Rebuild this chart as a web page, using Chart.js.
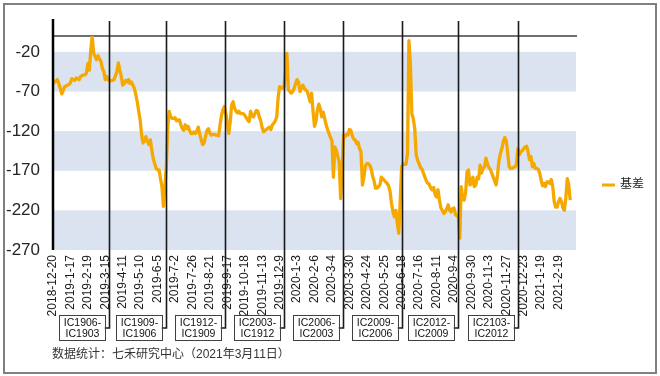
<!DOCTYPE html>
<html>
<head>
<meta charset="utf-8">
<script src="https://cdn.jsdelivr.net/npm/chart.js@4.4.1/dist/chart.umd.min.js"></script>
<style>
  html, body { margin: 0; padding: 0; background: #fff; }
  #wrap { width: 660px; height: 376px; }
</style>
</head>
<body>
<div id="wrap"><canvas id="chart" width="660" height="376"></canvas></div>
<script>
// tick labels along the x axis, one every LABEL_STEP points
const dateLabels = [
  '2018-12-20', '2019-1-17', '2019-2-19', '2019-3-15', '2019-4-11', '2019-5-10',
  '2019-6-5', '2019-7-2', '2019-7-26', '2019-8-21', '2019-9-17', '2019-10-18',
  '2019-11-13', '2019-12-9', '2020-1-3', '2020-2-6', '2020-3-4', '2020-3-30',
  '2020-4-24', '2020-5-25', '2020-6-18', '2020-7-16', '2020-8-11', '2020-9-4',
  '2020-9-30', '2020-11-3', '2020-11-27', '2020-12-23', '2021-1-19', '2021-2-19'
];
const LABEL_STEP = 12;

// 基差 series
const basis = [
  -60, -58, -57, -55, -60, -66, -73, -69, -64, -63,
  -62, -61, -59, -54, -55, -56, -53, -54, -55, -51,
  -50, -49, -49, -47, -35, -43, -18, -1, -22, -26,
  -30, -25, -29, -32, -41, -45, -55, -51, -55, -57,
  -56, -56, -55, -50, -45, -34, -43, -51, -62, -60,
  -56, -58, -55, -60, -58, -62, -66, -74, -83, -95,
  -106, -125, -135, -132, -127, -133, -137, -131, -144, -155,
  -161, -167, -169, -169, -180, -190, -215, -190, -165, -114,
  -95, -102, -104, -104, -103, -107, -106, -106, -112, -117,
  -119, -112, -117, -114, -119, -123, -123, -121, -123, -120,
  -115, -124, -131, -137, -135, -127, -119, -117, -123, -125,
  -124, -124, -125, -125, -126, -112, -100, -93, -89, -98,
  -110, -123, -108, -87, -83, -91, -95, -97, -95, -98,
  -98, -98, -100, -103, -106, -108, -95, -101, -102, -98,
  -94, -95, -102, -107, -116, -121, -119, -118, -116, -115,
  -118, -112, -110, -107, -102, -77, -64, -65, -66, -64,
  -45, -22, -68, -70, -72, -70, -66, -60, -55, -58,
  -70, -66, -62, -66, -68, -70, -76, -83, -72, -95,
  -114, -108, -93, -86, -92, -102, -96, -104, -112, -118,
  -123, -128, -132, -178, -140, -144, -152, -159, -205, -169,
  -125, -127, -124, -125, -118, -119, -126, -130, -131, -136,
  -134, -142, -146, -188, -178, -164, -161, -161, -163, -167,
  -177, -183, -192, -192, -190, -188, -178, -180, -182, -184,
  -186, -189, -196, -211, -222, -228, -220, -236, -249, -207,
  -165, -161, -162, -162, -148, -6, -35, -98, -104, -117,
  -150, -157, -161, -166, -168, -173, -178, -183, -186, -187,
  -192, -194, -191, -200, -203, -194, -207, -217, -220, -224,
  -222, -218, -213, -220, -222, -218, -217, -225, -227, -228,
  -255, -190, -205, -207, -198, -171, -169, -188, -186, -178,
  -190, -188, -178, -180, -163, -173, -167, -165, -154, -161,
  -166, -168, -173, -178, -183, -188, -175, -157, -148, -142,
  -133, -128, -132, -148, -165, -167, -167, -166, -165, -162,
  -142, -150, -146, -145, -142, -140, -139, -146, -156, -152,
  -165, -161, -167, -167, -168, -173, -182, -189, -186, -190,
  -184, -184, -186, -181, -190, -209, -216, -216, -209, -205,
  -209, -217, -220, -204, -180, -188, -207
];

// contract roll points (in series index) and their labels
const rollPoints = [38.6, 77.8, 118.4, 159, 199.6, 240.2, 278.8, 320];
const rollLabels = [
  ['IC1906-', 'IC1903'], ['IC1909-', 'IC1906'], ['IC1912-', 'IC1909'], ['IC2003-', 'IC1912'],
  ['IC2006-', 'IC2003'], ['IC2009-', 'IC2006'], ['IC2012-', 'IC2009'], ['IC2103-', 'IC2012']
];

const yTicks = [-270, -220, -170, -120, -70, -20];
const seriesName = '基差';
const note = '数据统计：七禾研究中心（2021年3月11日）';

const LINE_COLOR = '#f5a800';
const BAND_COLOR = '#dae3ef';
const FONT = "'Liberation Sans', 'Noto Sans CJK SC', sans-serif";

const decor = {
  id: 'decor',
  beforeDraw(chart) {
    const { ctx } = chart;
    ctx.save();
    ctx.fillStyle = '#fff';
    ctx.fillRect(0, 0, chart.width, chart.height);
    ctx.strokeStyle = '#808080';
    ctx.lineWidth = 2;
    ctx.strokeRect(4, 4, chart.width - 8, chart.height - 7);
    ctx.restore();
  },
  beforeDatasetsDraw(chart) {
    const { ctx, chartArea: a, scales: { y } } = chart;
    ctx.save();
    ctx.fillStyle = BAND_COLOR;
    for (let i = yTicks.length - 1; i > 0; i -= 2) {
      const t = y.getPixelForValue(yTicks[i]);
      const b = y.getPixelForValue(yTicks[i - 1]);
      ctx.fillRect(a.left, t, a.right - a.left, b - t);
    }
    const y0 = y.getPixelForValue(y.max);
    ctx.strokeStyle = '#404040';
    ctx.lineWidth = 1.5;
    ctx.beginPath();
    ctx.moveTo(a.left, y0);
    ctx.lineTo(a.right + 1, y0);
    ctx.stroke();
    ctx.restore();
  },
  afterDraw(chart) {
    const { ctx, chartArea: a, scales: { x } } = chart;
    ctx.save();
    // left axis
    ctx.strokeStyle = '#000';
    ctx.lineWidth = 2.5;
    ctx.beginPath();
    ctx.moveTo(a.left, a.top - 17);
    ctx.lineTo(a.left, a.bottom);
    ctx.stroke();

    // roll lines with their boxes
    const boxW = 46, boxH = 25, boxT = a.bottom + 65, midY = boxT + 13;
    ctx.font = '10.5px ' + FONT;
    ctx.textAlign = 'center';
    ctx.textBaseline = 'middle';
    rollPoints.forEach((p, i) => {
      const px = Math.round(x.getPixelForValue(p)) + 0.5;
      const boxR = px - 5;
      const boxL = boxR - boxW;
      ctx.strokeStyle = '#1a1a1a';
      ctx.lineWidth = 1.6;
      ctx.beginPath();
      ctx.moveTo(px, a.top - 15);
      ctx.lineTo(px, midY);
      ctx.lineTo(boxR, midY);
      ctx.stroke();
      ctx.fillStyle = '#fff';
      ctx.fillRect(boxL, boxT, boxW, boxH);
      ctx.strokeStyle = '#404040';
      ctx.lineWidth = 1;
      ctx.strokeRect(Math.round(boxL) + 0.5, boxT + 0.5, boxW, boxH);
      ctx.fillStyle = '#111';
      ctx.fillText(rollLabels[i][0], boxL + boxW / 2 + 1, boxT + 8);
      ctx.fillText(rollLabels[i][1], boxL + boxW / 2 + 1, boxT + 19);
    });

    // legend
    ctx.font = '12px ' + FONT;
    const ly = Math.round(chart.height / 2) - 3;
    ctx.strokeStyle = LINE_COLOR;
    ctx.lineWidth = 3;
    ctx.beginPath();
    ctx.moveTo(a.right + 26, ly);
    ctx.lineTo(a.right + 39, ly);
    ctx.stroke();
    ctx.fillStyle = '#222';
    ctx.textAlign = 'left';
    ctx.fillText(seriesName, a.right + 44, ly);

    // source note
    ctx.fillStyle = '#333';
    ctx.fillText(note, a.left - 1, 355);
    ctx.restore();
  }
};

new Chart(document.getElementById('chart').getContext('2d'), {
  type: 'line',
  data: {
    datasets: [{
      label: seriesName,
      data: basis.map((v, i) => ({ x: i, y: v })),
      borderColor: LINE_COLOR,
      backgroundColor: LINE_COLOR,
      borderWidth: 3.3,
      borderJoinStyle: 'round',
      pointRadius: 0,
      tension: 0,
      fill: false,
    }],
  },
  options: {
    responsive: false,
    animation: false,
    events: [],
    layout: { padding: { top: 36, right: 84, left: 0, bottom: 0 } },
    plugins: { legend: { display: false }, tooltip: { enabled: false } },
    scales: {
      x: {
        type: 'linear',
        min: 0,
        max: 360,
        grid: { display: false },
        border: { display: false },
        afterBuildTicks: (s) => { s.ticks = dateLabels.map((_, j) => ({ value: j * LABEL_STEP })); },
        afterFit: (s) => { s.height = 126; },
        ticks: {
          autoSkip: false,
          minRotation: 90,
          maxRotation: 90,
          padding: -3,
          color: '#1a1a1a',
          font: { family: FONT, size: 12 },
          callback: (v) => dateLabels[Math.round(v / LABEL_STEP)],
        },
      },
      y: {
        min: -270,
        max: 0,
        grid: { display: false },
        border: { display: false },
        afterBuildTicks: (s) => { s.ticks = yTicks.map((v) => ({ value: v })); },
        afterFit: (s) => { s.width = 53; },
        ticks: {
          padding: 5,
          color: '#262626',
          font: { family: FONT, size: 17 },
          callback: (v) => v,
        },
      },
    },
  },
  plugins: [decor],
});
</script>
</body>
</html>
